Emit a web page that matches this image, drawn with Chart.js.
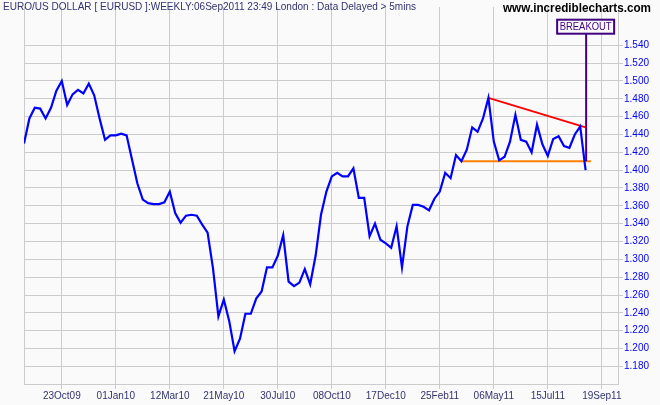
<!DOCTYPE html>
<html>
<head>
<meta charset="utf-8">
<script src="https://cdn.jsdelivr.net/npm/chart.js@4/dist/chart.umd.min.js"></script>
<style>
  html, body { margin: 0; padding: 0; background: #fafafa; }
</style>
</head>
<body>
<canvas id="chart" width="660" height="405"></canvas>
<script>
// weekly closes, EUR/USD, one value per week starting early Sep 2009
const closes = [
  1.430, 1.458, 1.470, 1.469, 1.458, 1.470, 1.489, 1.500, 1.473, 1.485,
  1.490, 1.486, 1.497, 1.484, 1.458, 1.434, 1.439, 1.439, 1.441, 1.439,
  1.412, 1.385, 1.367, 1.363, 1.362, 1.362, 1.364, 1.376, 1.352, 1.341,
  1.349, 1.350, 1.349, 1.339, 1.330, 1.290, 1.236, 1.255, 1.231, 1.197,
  1.211, 1.239, 1.239, 1.256, 1.264, 1.291, 1.291, 1.304, 1.327, 1.275,
  1.270, 1.274, 1.289, 1.272, 1.304, 1.350, 1.376, 1.393, 1.397, 1.393,
  1.393, 1.402, 1.369, 1.369, 1.326, 1.340, 1.322, 1.318, 1.313, 1.337,
  1.291, 1.337, 1.361, 1.361, 1.359, 1.355, 1.368, 1.376, 1.397, 1.391,
  1.417, 1.410, 1.423, 1.448, 1.443, 1.458, 1.481, 1.432, 1.411, 1.415,
  1.432, 1.462, 1.434, 1.432, 1.420, 1.451, 1.429, 1.416, 1.435, 1.438,
  1.427, 1.425, 1.440, 1.449, 1.400
];

// x axis: week index of each date label
const tickWeeks = [7, 17, 27, 37, 47, 57, 67, 77, 87, 97, 107];
const tickLabels = ['23Oct09', '01Jan10', '12Mar10', '21May10', '30Jul10', '08Oct10',
  '17Dec10', '25Feb11', '06May11', '15Jul11', '19Sep11'];

// y axis tick values
const yTicks = [1.18, 1.20, 1.22, 1.24, 1.26, 1.28, 1.30, 1.32, 1.34, 1.36,
  1.38, 1.40, 1.42, 1.44, 1.46, 1.48, 1.50, 1.52, 1.54];

// triangle lines
const resistanceWeeks = [86, 104];
const resistance = [1.481, 1.448];
const supportWeeks = [81, 105];
const support = [1.410, 1.410];
const breakoutWeek = 104.1;
const breakoutRange = [1.410, 1.553];

const titleText = 'EURO/US DOLLAR [ EURUSD ]:WEEKLY:06Sep2011 23:49 London : Data Delayed > 5mins';
const logoText = 'www.incrediblecharts.com';

const pts = (xs, ys) => xs.map((x, i) => ({ x, y: ys[i] }));

// ğŸ¨ background, header text and breakout box
const decor = {
  id: 'decor',
  beforeDraw(chart) {
    const c = chart.ctx;
    c.save();
    c.fillStyle = '#fafafa';
    c.fillRect(0, 0, chart.width, chart.height);
    c.restore();
  },
  afterDraw(chart) {
    const c = chart.ctx;
    const sx = chart.scales.x, sy = chart.scales.y;
    c.save();
    c.textBaseline = 'middle';
    c.textAlign = 'left';
    c.fillStyle = '#333370';
    c.font = '11px Arial, "Liberation Sans", sans-serif';
    c.fillText(titleText, 3, 7, 413);
    c.fillStyle = '#000';
    c.font = 'bold 13px Arial, "Liberation Sans", sans-serif';
    c.fillText(logoText, 503, 8, 148);

    const bx = sx.getPixelForValue(breakoutWeek);
    const by = sy.getPixelForValue(breakoutRange[1]);
    c.strokeStyle = '#400080';
    c.lineWidth = 2;
    c.fillStyle = '#fafafa';
    c.fillRect(bx - 29, by - 14, 57, 14);
    c.strokeRect(bx - 29, by - 14, 57, 14);
    c.fillStyle = '#400080';
    c.textAlign = 'center';
    c.font = '11px Arial, "Liberation Sans", sans-serif';
    c.fillText('BREAKOUT', bx - 0.5, by - 6.5, 52);
    c.restore();
  }
};

new Chart(document.getElementById('chart'), {
  type: 'line',
  data: {
    datasets: [
      {
        data: pts(closes.map((_, i) => i), closes),
        borderColor: '#0000ff',
        borderWidth: 2.2,
        pointRadius: 0,
        tension: 0,
        order: 0
      },
      {
        data: pts(resistanceWeeks, resistance),
        borderColor: '#ff0000',
        borderWidth: 2,
        pointRadius: 0,
        order: 2
      },
      {
        data: pts(supportWeeks, support),
        borderColor: '#ff8000',
        borderWidth: 2,
        pointRadius: 0,
        order: 2
      },
      {
        data: pts([breakoutWeek, breakoutWeek], breakoutRange),
        borderColor: '#400080',
        borderWidth: 2,
        pointRadius: 0,
        order: 1
      }
    ]
  },
  options: {
    responsive: false,
    animation: false,
    devicePixelRatio: 1,
    layout: { padding: { left: 24, right: 0, top: 0, bottom: 0 } },
    plugins: { legend: { display: false }, tooltip: { enabled: false } },
    scales: {
      x: {
        type: 'linear',
        min: 0,
        max: 110,
        afterBuildTicks: s => { s.ticks = [0, ...tickWeeks].map(v => ({ value: v })); },
        afterFit: s => { s.height = 21; },
        grid: {
          color: '#cccccc',
          lineWidth: 1,
          tickLength: 5,
          tickColor: ctx => (ctx.tick && ctx.tick.value === 0 ? 'rgba(0,0,0,0)' : '#cccccc')
        },
        border: { color: '#cccccc' },
        ticks: {
          autoSkip: false,
          maxRotation: 0,
          padding: 1,
          color: '#333370',
          font: { family: 'Arial, "Liberation Sans", sans-serif', size: 10 },
          callback: v => {
            const k = tickWeeks.indexOf(v);
            return k >= 0 ? tickLabels[k] : '';
          }
        }
      },
      y: {
        position: 'right',
        min: 1.16025,
        max: 1.58293,
        afterBuildTicks: s => { s.ticks = yTicks.map(v => ({ value: v })); },
        afterFit: s => { s.width = 42; },
        grid: { color: '#cccccc', lineWidth: 1, tickLength: 5 },
        border: { color: '#cccccc' },
        ticks: {
          padding: 1,
          color: '#0000ff',
          font: { family: 'Arial, "Liberation Sans", sans-serif', size: 10 },
          callback: v => v.toFixed(3)
        }
      }
    }
  },
  plugins: [decor]
});
</script>
</body>
</html>
